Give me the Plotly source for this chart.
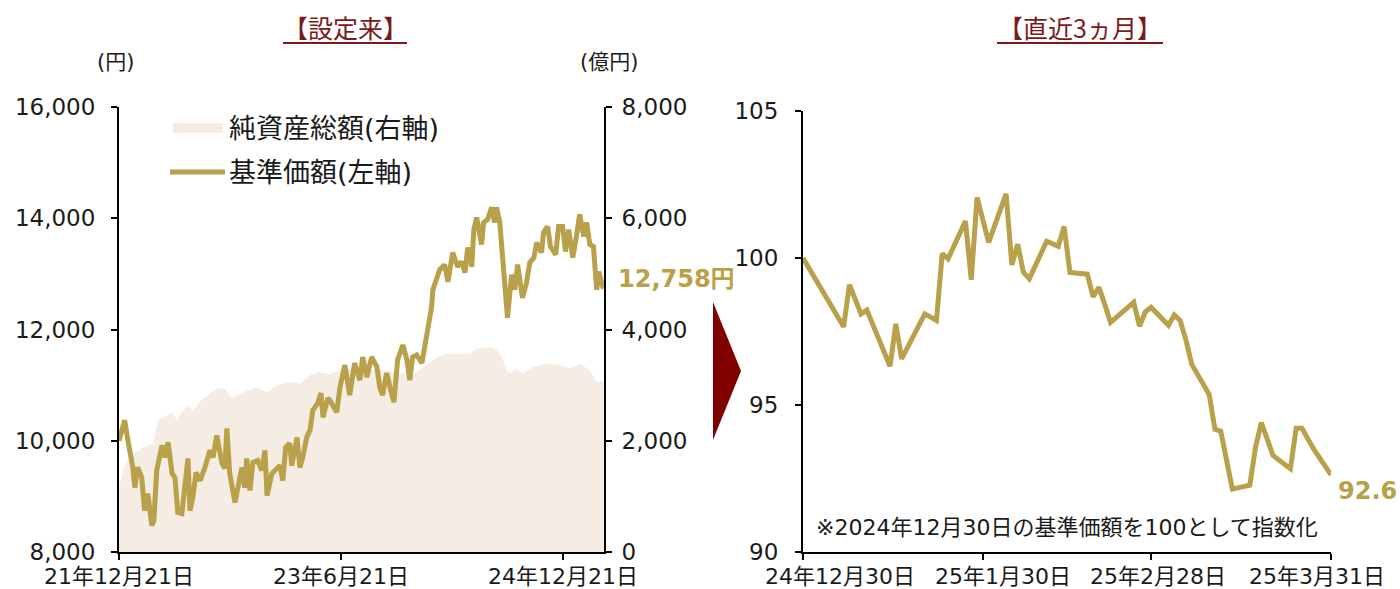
import plotly.graph_objects as go

# ---------------- data ----------------
nav_dates = [
    "2021-12-21", "2022-01-04", "2022-01-12", "2022-01-24", "2022-01-29", "2022-02-05", "2022-02-15",
    "2022-02-22", "2022-03-02", "2022-03-12", "2022-03-17", "2022-03-24", "2022-04-06", "2022-04-13",
    "2022-04-21", "2022-05-01", "2022-05-08", "2022-05-15", "2022-05-25", "2022-06-02", "2022-06-09",
    "2022-06-14", "2022-06-21", "2022-06-29", "2022-07-09", "2022-07-21", "2022-08-02", "2022-08-10",
    "2022-08-19", "2022-09-01", "2022-09-08", "2022-09-13", "2022-09-20", "2022-10-03", "2022-10-10",
    "2022-10-20", "2022-10-27", "2022-11-01", "2022-11-09", "2022-11-16", "2022-11-28", "2022-12-08",
    "2022-12-16", "2022-12-21", "2023-01-02", "2023-01-09", "2023-01-22", "2023-01-29", "2023-02-05",
    "2023-02-15", "2023-02-20", "2023-03-05", "2023-03-12", "2023-03-19", "2023-03-29", "2023-04-06",
    "2023-04-13", "2023-04-25", "2023-05-03", "2023-05-08", "2023-05-20", "2023-05-25", "2023-06-11",
    "2023-06-19", "2023-07-01", "2023-07-13", "2023-07-25", "2023-08-07", "2023-08-14", "2023-08-24",
    "2023-09-05", "2023-09-18", "2023-09-25", "2023-10-02", "2023-10-12", "2023-10-22", "2023-10-30",
    "2023-11-08", "2023-11-21", "2023-12-01", "2023-12-08", "2023-12-15", "2023-12-25", "2024-01-07",
    "2024-01-14", "2024-01-21", "2024-01-31", "2024-02-03", "2024-02-10", "2024-02-20", "2024-03-03",
    "2024-03-11", "2024-03-23", "2024-04-04", "2024-04-14", "2024-04-22", "2024-04-29", "2024-05-09",
    "2024-05-14", "2024-05-21", "2024-06-02", "2024-06-07", "2024-06-17", "2024-06-27", "2024-07-04",
    "2024-07-09", "2024-07-17", "2024-07-24", "2024-07-29", "2024-08-05", "2024-08-15", "2024-08-23",
    "2024-08-30", "2024-09-11", "2024-09-21", "2024-09-29", "2024-10-09", "2024-10-16", "2024-10-28",
    "2024-11-02", "2024-11-12", "2024-11-19", "2024-12-02", "2024-12-09", "2024-12-19", "2024-12-26",
    "2025-01-03", "2025-01-13", "2025-01-22", "2025-01-30", "2025-02-09", "2025-02-16", "2025-02-24",
    "2025-03-05", "2025-03-13", "2025-03-18", "2025-03-28", "2025-03-31",
]
nav_values = [
    10000, 10368, 10007, 9520, 9159, 9520, 9340,
    8744, 9050, 8473, 8563, 9466, 9917, 9700,
    9971, 9412, 9340, 8708, 8690, 9159, 9682,
    8744, 8978, 9430, 9285, 9520, 9827, 9700,
    10097, 9592, 9502, 10224, 9412, 8888, 9159,
    9520, 9159, 9682, 9105, 9610, 9646, 9466,
    9827, 9014, 9412, 9466, 9556, 9285, 9881,
    9953, 9556, 10061, 9520, 9700, 10061, 10188,
    10549, 10675, 10856, 10422, 10765, 10729, 10513,
    10964, 11361, 10820, 11397, 11090, 11505, 11144,
    11505, 11325, 10964, 10820, 11217, 10910, 10693,
    11451, 11722, 11451, 11090, 11505, 11542, 11397,
    11686, 11993, 12408, 12715, 12859, 13076, 13166,
    12859, 13383, 13130, 13220, 13022, 13473, 13130,
    13798, 14014, 13527, 13924, 13978, 14195, 13924,
    14195, 13924, 13202, 12949, 12209, 12986, 12715,
    13166, 12570, 12841, 13202, 13292, 13563, 13383,
    13744, 13852, 13491, 13347, 13852, 13852, 13401,
    13798, 13292, 13671, 14069, 13671, 13924, 13527,
    13491, 12715, 13040, 12769, 12758,
]

aum_dates = [
    "2021-12-21", "2021-12-31", "2022-01-12", "2022-01-29", "2022-02-18", "2022-03-15", "2022-03-27",
    "2022-04-08", "2022-05-01", "2022-05-13", "2022-05-25", "2022-06-09", "2022-06-21", "2022-07-16",
    "2022-08-19", "2022-09-08", "2022-09-28", "2022-10-23", "2022-11-26", "2022-12-21", "2023-01-14",
    "2023-02-15", "2023-03-12", "2023-04-06", "2023-04-30", "2023-05-25", "2023-06-26", "2023-08-02",
    "2023-09-25", "2023-11-06", "2023-12-15", "2024-01-19", "2024-02-13", "2024-03-08", "2024-04-02",
    "2024-05-04", "2024-05-21", "2024-06-05", "2024-06-27", "2024-07-09", "2024-07-22", "2024-08-03",
    "2024-08-10", "2024-08-28", "2024-09-11", "2024-10-06", "2024-11-10", "2024-12-12", "2025-01-05",
    "2025-01-30", "2025-02-24", "2025-03-13", "2025-03-31",
]
aum_values = [
    1150, 1460, 1650, 1790, 1880, 1950, 2360,
    2420, 2510, 2370, 2510, 2640, 2550, 2760,
    2940, 2940, 2760, 2870, 2960, 2870, 3000,
    3050, 3030, 3180, 3230, 3200, 3280, 3300,
    3270, 3230, 3180, 3360, 3500, 3570, 3570,
    3570, 3660, 3660, 3680, 3630, 3500, 3270,
    3210, 3300, 3210, 3320, 3390, 3360, 3300,
    3390, 3270, 3050, 3080,
]

idx_dates = [
    "2024-12-30", "2025-01-06", "2025-01-07", "2025-01-09", "2025-01-10", "2025-01-14", "2025-01-15",
    "2025-01-16", "2025-01-20", "2025-01-22", "2025-01-23", "2025-01-24", "2025-01-27", "2025-01-28",
    "2025-01-29", "2025-01-31", "2025-02-03", "2025-02-04", "2025-02-05", "2025-02-06", "2025-02-07",
    "2025-02-10", "2025-02-12", "2025-02-13", "2025-02-14", "2025-02-17", "2025-02-18", "2025-02-19",
    "2025-02-20", "2025-02-21", "2025-02-25", "2025-02-26", "2025-02-27", "2025-02-28", "2025-03-03",
    "2025-03-04", "2025-03-05", "2025-03-06", "2025-03-07", "2025-03-10", "2025-03-11", "2025-03-12",
    "2025-03-14", "2025-03-17", "2025-03-18", "2025-03-19", "2025-03-21", "2025-03-24", "2025-03-25",
    "2025-03-26", "2025-03-27", "2025-03-28", "2025-03-31",
]
idx_values = [
    100.00, 97.66, 99.09, 98.10, 98.23, 96.32, 97.76,
    96.57, 98.10, 97.88, 100.15, 99.97, 101.26, 99.26,
    102.06, 100.53, 102.18, 99.77, 100.47, 99.51, 99.29,
    100.57, 100.40, 101.07, 99.51, 99.45, 98.68, 99.00,
    98.43, 97.81, 98.49, 97.68, 98.17, 98.32, 97.71,
    98.06, 97.88, 97.21, 96.38, 95.36, 94.17, 94.11,
    92.14, 92.27, 93.57, 94.40, 93.28, 92.83, 94.21,
    94.21, 93.85, 93.51, 92.62,
]

left_xtick_vals = ["2021-12-21", "2023-06-21", "2024-12-21"]
left_xtick_text = ["21年12月21日", "23年6月21日", "24年12月21日"]
right_xtick_vals = ["2024-12-30", "2025-01-30", "2025-02-28", "2025-03-31"]
right_xtick_text = ["24年12月30日", "25年1月30日", "25年2月28日", "25年3月31日"]

# ---------------- style ----------------
W, H = 1400, 589
FONT = "DejaVu Sans, Noto Sans CJK JP"
CJK = "Noto Sans CJK JP"
GOLD = "#B9A04A"
AREA = "#F5ECE3"
DARKRED = "#7A1A1A"
ARROW = "#800000"
TXT = "#1a1a1a"
XLABEL_Y = 576


def px(x):
    return x / W


def py(y):
    return 1 - y / H


fig = go.Figure()

# area (net assets, right axis) on base axis so NAV line draws above it
fig.add_trace(go.Scatter(
    x=aum_dates, y=aum_values, xaxis="x", yaxis="y",
    mode="lines", fill="tozeroy", fillcolor=AREA,
    line=dict(width=0, color=AREA), hoverinfo="skip", showlegend=False,
))
fig.add_trace(go.Scatter(
    x=nav_dates, y=nav_values, xaxis="x", yaxis="y2",
    mode="lines", line=dict(color=GOLD, width=5), showlegend=False,
))
fig.add_trace(go.Scatter(
    x=idx_dates, y=idx_values, xaxis="x2", yaxis="y3",
    mode="lines", line=dict(color=GOLD, width=5), showlegend=False,
))

axis_common = dict(
    showgrid=False, zeroline=False, showline=True, linecolor="black", linewidth=2,
    ticks="outside", ticklen=6, tickwidth=2, tickcolor="black", automargin=False,
)
yfont = dict(family=FONT, size=23, color=TXT)
xfont = dict(family=FONT, size=22, color=TXT)

fig.update_layout(
    width=W, height=H,
    margin=dict(l=0, r=0, t=0, b=0, pad=0, autoexpand=False),
    paper_bgcolor="white", plot_bgcolor="rgba(0,0,0,0)",
    font=dict(family=FONT, color=TXT),
    xaxis=dict(
        domain=[px(119), px(604)], anchor="y", type="date",
        range=["2021-12-21", "2025-03-31"],
        tickmode="array", tickvals=left_xtick_vals, showticklabels=False,
        **axis_common,
    ),
    yaxis=dict(
        domain=[py(552), py(107)], anchor="x", side="right",
        range=[0, 8000], tickmode="array", tickvals=[0, 2000, 4000, 6000, 8000],
        tickformat=",d", tickfont=yfont, ticklabelstandoff=5, **axis_common,
    ),
    yaxis2=dict(
        overlaying="y", anchor="x", side="left",
        range=[8000, 16000], tickmode="array", tickvals=[8000, 10000, 12000, 14000, 16000],
        tickformat=",d", tickfont=yfont, ticklabelstandoff=11, **axis_common,
    ),
    xaxis2=dict(
        domain=[px(803), px(1331)], anchor="y3", type="date",
        range=["2024-12-30", "2025-03-31"],
        tickmode="array", tickvals=right_xtick_vals, showticklabels=False,
        **axis_common,
    ),
    yaxis3=dict(
        domain=[py(552), py(111)], anchor="x2",
        range=[90, 105], tickmode="array", tickvals=[90, 95, 100, 105],
        tickfont=yfont, ticklabelstandoff=12, **axis_common,
    ),
)


def note(text, x, y, size, color=TXT, family=FONT, xanchor="center", **kw):
    d = dict(text=text, x=px(x), y=py(y), xref="paper", yref="paper",
             xanchor=xanchor, yanchor="middle", showarrow=False,
             font=dict(family=family, size=size, color=color))
    d.update(kw)
    return d


ann = []
# titles
ann.append(note("【設定来】", 345, 27, 25, color=DARKRED, family=CJK))
ann.append(note("【直近3ヵ月】", 1080, 27, 25, color=DARKRED, family=CJK))
# unit labels
ann.append(note("(円)", 116, 62, 21))
ann.append(note("(億円)", 609, 62, 21))
# legend
ann.append(note("純資産総額(右軸)", 227, 128, 27, xanchor="left"))
ann.append(note("基準価額(左軸)", 227, 172, 27, xanchor="left"))
# note
ann.append(note("※2024年12月30日の基準価額を100として指数化", 814, 527, 22, xanchor="left"))
# last value labels
ann.append(dict(text=f"<b>{nav_values[-1]:,}円</b>", x=nav_dates[-1], y=nav_values[-1],
                xref="x", yref="y2", xanchor="left", yanchor="middle", xshift=12, yshift=8,
                showarrow=False, font=dict(family=FONT, size=24, color=GOLD)))
ann.append(dict(text=f"<b>{idx_values[-1]:.1f}</b>", x=idx_dates[-1], y=idx_values[-1],
                xref="x2", yref="y3", xanchor="left", yanchor="middle", xshift=5, yshift=-16,
                showarrow=False, font=dict(family=FONT, size=24, color=GOLD)))
# x tick labels (left: centred on ticks; right: Excel-style spread)
for v, t in zip(left_xtick_vals, left_xtick_text):
    ann.append(dict(text=t, x=v, y=py(XLABEL_Y), xref="x", yref="paper",
                    xanchor="center", yanchor="middle", showarrow=False, font=xfont))
shifts = [37, 20, 7, -14]
for v, t, s in zip(right_xtick_vals, right_xtick_text, shifts):
    ann.append(dict(text=t, x=v, y=py(XLABEL_Y), xref="x2", yref="paper", xshift=s,
                    xanchor="center", yanchor="middle", showarrow=False, font=xfont))
fig.update_layout(annotations=ann)

shapes = []
# title underlines
shapes.append(dict(type="line", xref="paper", yref="paper", x0=px(283), x1=px(407),
                   y0=py(43), y1=py(43), line=dict(color=DARKRED, width=2)))
shapes.append(dict(type="line", xref="paper", yref="paper", x0=px(997), x1=px(1163),
                   y0=py(43), y1=py(43), line=dict(color=DARKRED, width=2)))
# legend swatches
shapes.append(dict(type="rect", xref="paper", yref="paper", x0=px(173), x1=px(223),
                   y0=py(133), y1=py(123), fillcolor=AREA, line=dict(width=0)))
shapes.append(dict(type="line", xref="paper", yref="paper", x0=px(170), x1=px(225),
                   y0=py(172), y1=py(172), line=dict(color=GOLD, width=5)))
# arrow triangle
path = f"M {px(713)},{py(302)} L {px(741)},{py(371)} L {px(713)},{py(440)} Z"
shapes.append(dict(type="path", xref="paper", yref="paper", path=path,
                   fillcolor=ARROW, line=dict(width=0)))
fig.update_layout(shapes=shapes)

fig.write_html(
    "out.html",
    config={"displayModeBar": False},
    post_script="document.body.style.margin='0';document.body.style.overflow='hidden';",
)
